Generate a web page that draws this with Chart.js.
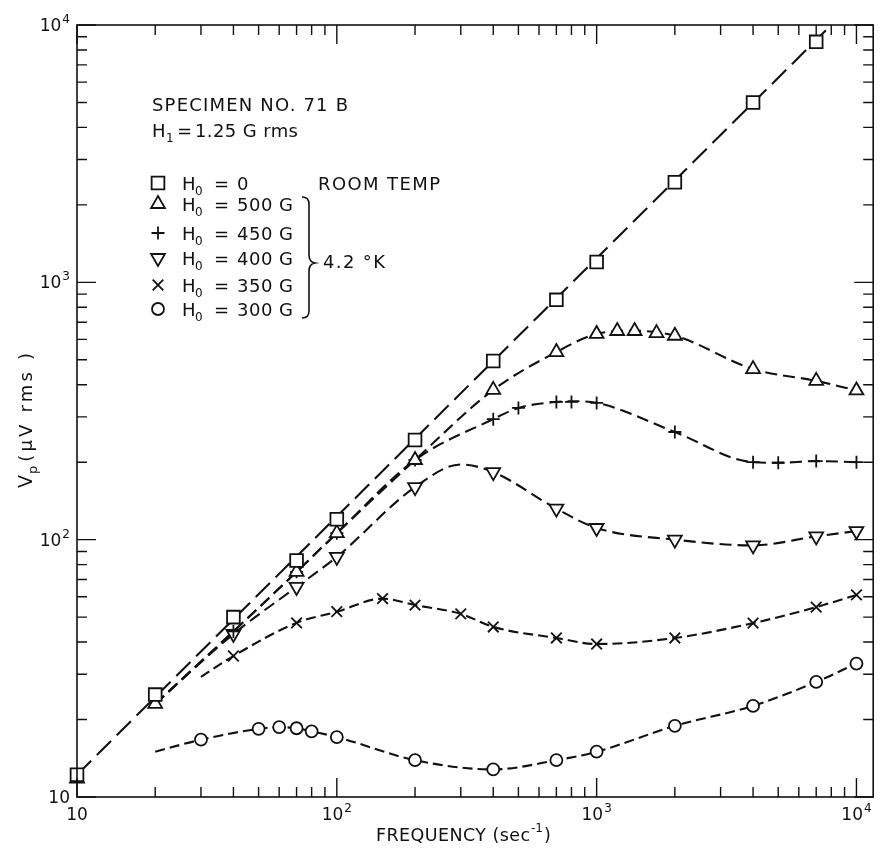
<!DOCTYPE html>
<html><head><meta charset="utf-8">
<script src="https://cdn.jsdelivr.net/npm/chart.js@4.4.1/dist/chart.umd.min.js"></script>
<style>html,body{margin:0;padding:0;background:#fff;}canvas{display:block;}</style>
</head><body>
<canvas id="c" width="884" height="849"></canvas>
<script>
// ---------------- data ----------------
const xDecades = [10, 100, 1000, 10000];
const yDecades = [10, 100, 1000, 10000];
const xMin = 10, xMax = 11600, yMin = 10, yMax = 10000;

// H0 = 0 (room temp), squares
const freqSquare = [10, 20, 40, 70, 100, 200, 400, 700, 1000, 2000, 4000, 7000];
const vSquare    = [12.2, 25, 50, 83, 120, 244, 495, 855, 1200, 2450, 5000, 8600];
const lineSquareFreq = [10, 8000];
const lineSquareV    = [12.2, 10000];

// H0 = 500 G, triangles up
const freqTriUp = [10, 20, 70, 100, 200, 400, 700, 1000, 1200, 1400, 1700, 2000, 4000, 7000, 10000];
const vTriUp    = [11.8, 23, 75, 106, 204, 382, 536, 630, 647, 647, 635, 620, 460, 414, 380];
const curveTriUpFreq = [20, 40, 70, 100, 200, 400, 700, 1000, 1400, 2000, 4000, 7000, 10000];
const curveTriUpV    = [23, 44, 75, 106, 204, 382, 536, 630, 648, 620, 460, 414, 380];

// H0 = 450 G, plus
const freqPlus = [40, 70, 100, 200, 400, 500, 700, 800, 1000, 2000, 4000, 5000, 7000, 10000];
const vPlus    = [44, 75, 106, 204, 294, 325, 343, 343, 340, 262, 200, 199, 202, 200];
const curvePlusFreq = [20, 40, 70, 100, 200, 400, 500, 700, 800, 1000, 2000, 4000, 5000, 7000, 10000];
const curvePlusV    = [23, 44, 75, 106, 204, 294, 325, 343, 345, 340, 262, 200, 199, 202, 200];

// H0 = 400 G, triangles down
const freqTriDown = [40, 70, 100, 200, 400, 700, 1000, 2000, 4000, 7000, 10000];
const vTriDown    = [43, 65.5, 85.7, 160, 183, 132, 111, 100, 95, 103, 108];
const curveTriDownFreq = [20, 40, 70, 100, 200, 300, 400, 700, 1000, 2000, 4000, 7000, 10000];
const curveTriDownV    = [23, 43, 65.5, 85.7, 160, 196, 183, 132, 111, 100, 95, 103, 108];

// H0 = 350 G, crosses
const freqX = [40, 70, 100, 150, 200, 300, 400, 700, 1000, 2000, 4000, 7000, 10000];
const vX    = [35.3, 47.5, 52.5, 59, 55.7, 51.5, 45.8, 41.5, 39.3, 41.5, 47.4, 54.7, 61];
const curveXFreq = [30, 40, 70, 100, 150, 200, 300, 400, 700, 1000, 2000, 4000, 7000, 10000];
const curveXV    = [29.3, 35.3, 47.5, 52.5, 59, 55.7, 51.5, 45.8, 41.5, 39.3, 41.5, 47.4, 54.7, 61];

// H0 = 300 G, circles
const freqO = [30, 50, 60, 70, 80, 100, 200, 400, 700, 1000, 2000, 4000, 7000, 10000];
const vO    = [16.7, 18.4, 18.7, 18.5, 18, 17.1, 13.9, 12.8, 13.9, 15, 18.9, 22.6, 28, 33];
const curveOFreq = [20, 30, 50, 60, 70, 80, 100, 200, 400, 700, 1000, 2000, 4000, 7000, 10000];
const curveOV    = [15, 16.7, 18.4, 18.7, 18.5, 18, 17.1, 13.9, 12.8, 13.9, 15, 18.9, 22.6, 28, 33];

const legendValues = ['0', '500 G', '450 G', '400 G', '350 G', '300 G'];
// ------------------------------------------------------------

const INK = '#111111';
const FONT = '"DejaVu Sans", "Liberation Sans", sans-serif';
const pts = (f, v) => f.map((x, i) => ({x: x, y: v[i]}));

const markerStyles = [
  {style: 'rect', r: 9, rot: 0},
  {style: 'triangle', r: 8, rot: 0},
  {style: 'cross', r: 6.5, rot: 0},
  {style: 'triangle', r: 8, rot: 180},
  {style: 'crossRot', r: 7.5, rot: 0},
  {style: 'circle', r: 6, rot: 0}
];
const markerData = [
  pts(freqSquare, vSquare), pts(freqTriUp, vTriUp), pts(freqPlus, vPlus),
  pts(freqTriDown, vTriDown), pts(freqX, vX), pts(freqO, vO)
];
const curveData = [
  {d: pts(lineSquareFreq, lineSquareV), dash: [20, 8], mono: false},
  {d: pts(curveTriUpFreq, curveTriUpV), dash: [12, 6], mono: true},
  {d: pts(curvePlusFreq, curvePlusV), dash: [12, 6], mono: true},
  {d: pts(curveTriDownFreq, curveTriDownV), dash: [12, 6], mono: true},
  {d: pts(curveXFreq, curveXV), dash: [10, 5], mono: true},
  {d: pts(curveOFreq, curveOV), dash: [10, 5], mono: true}
];

const datasets = [];
curveData.forEach(c => datasets.push({
  data: c.d, showLine: true, pointRadius: 0, borderColor: INK, borderWidth: 2.1,
  borderDash: c.dash, cubicInterpolationMode: c.mono ? 'monotone' : 'default',
  tension: c.mono ? 0.4 : 0, order: 2, clip: false
}));
markerData.forEach((d, i) => datasets.push({
  data: d, showLine: false, pointStyle: markerStyles[i].style, pointRadius: markerStyles[i].r,
  pointRotation: markerStyles[i].rot, pointBorderColor: INK, pointBackgroundColor: '#ffffff',
  pointBorderWidth: 1.8, pointHoverRadius: markerStyles[i].r, order: 1, clip: false
}));

function fitText(ctx, text, x, y, width, size, align) {
  ctx.font = size + 'px ' + FONT;
  ctx.letterSpacing = '0px';
  const w0 = ctx.measureText(text).width;
  let s = 0;
  if (width && text.length > 1) s = (width - w0) / (text.length - 1);
  s = Math.max(-1.5, Math.min(6, s));
  const tw = w0 + s * (text.length - 1);
  ctx.letterSpacing = s + 'px';
  ctx.textAlign = 'left';
  let x0 = x;
  if (align === 'center') x0 = x - tw / 2;
  else if (align === 'right') x0 = x - tw;
  ctx.fillText(text, x0, y);
  ctx.letterSpacing = '0px';
  return x0 + tw;
}

function powLabel(ctx, d, x, y, align) {
  const e = Math.round(Math.log10(d));
  ctx.font = '17px ' + FONT;
  const wb = ctx.measureText('10').width;
  let we = 0;
  const es = e === 1 ? '' : String(e);
  ctx.font = '12px ' + FONT;
  if (es) we = ctx.measureText(es).width + 1;
  const tw = wb + we;
  let x0 = align === 'right' ? x - tw : x - tw / 2;
  ctx.textAlign = 'left';
  ctx.font = '17px ' + FONT;
  ctx.fillText('10', x0, y);
  if (es) { ctx.font = '12px ' + FONT; ctx.fillText(es, x0 + wb + 1, y - 8); }
}

const decor = {
  id: 'decor',
  afterDatasetsDraw(chart) {
    const ctx = chart.ctx, a = chart.chartArea, xs = chart.scales.x, ys = chart.scales.y;
    ctx.save();
    ctx.strokeStyle = INK; ctx.fillStyle = INK; ctx.lineWidth = 1.6; ctx.setLineDash([]);
    ctx.strokeRect(a.left, a.top, a.right - a.left, a.bottom - a.top);
    ctx.lineWidth = 1.4;
    ctx.beginPath();
    xDecades.forEach(d => {
      for (let m = 1; m <= 9; m++) {
        const v = d * m; if (v > xMax) break;
        const px = xs.getPixelForValue(v), L = m === 1 ? 19 : 10;
        ctx.moveTo(px, a.bottom); ctx.lineTo(px, a.bottom - L);
        ctx.moveTo(px, a.top); ctx.lineTo(px, a.top + L);
      }
    });
    yDecades.forEach(d => {
      for (let m = 1; m <= 9; m++) {
        const v = d * m; if (v > yMax) break;
        const py = ys.getPixelForValue(v), L = m === 1 ? 19 : 10;
        ctx.moveTo(a.left, py); ctx.lineTo(a.left + L, py);
        ctx.moveTo(a.right, py); ctx.lineTo(a.right - L, py);
      }
    });
    ctx.stroke();
    // tick labels
    ctx.textBaseline = 'alphabetic';
    xDecades.forEach(d => powLabel(ctx, d, xs.getPixelForValue(d), 820, 'center'));
    yDecades.forEach(d => powLabel(ctx, d, a.left - 7, ys.getPixelForValue(d) + 6, 'right'));
    // x title
    let xe = fitText(ctx, 'FREQUENCY (sec', 376, 841, 154, 17.5, 'left');
    ctx.font = '12px ' + FONT; ctx.fillText('-1', xe + 1, 832);
    const w1 = ctx.measureText('-1').width;
    ctx.font = '17.5px ' + FONT; ctx.fillText(')', xe + w1 + 2, 841);
    // y title (rotated)
    ctx.save();
    ctx.translate(32, 488); ctx.rotate(-Math.PI / 2);
    ctx.font = '19px ' + FONT; ctx.fillText('V', 0, 0);
    const wv = ctx.measureText('V').width;
    ctx.font = '13px ' + FONT; ctx.fillText('p', wv + 1, 5);
    const wp = ctx.measureText('p').width;
    fitText(ctx, '(\u03bcV rms )', wv + wp + 5, 0, 135 - wv - wp - 5, 18, 'left');
    ctx.restore();
    // annotation
    fitText(ctx, 'SPECIMEN NO. 71 B', 152, 111, 196, 18, 'left');
    ctx.font = '18px ' + FONT; ctx.fillText('H', 152, 137);
    ctx.font = '12px ' + FONT; ctx.fillText('1', 166, 142);
    ctx.font = '18px ' + FONT; ctx.fillText('=', 177, 137);
    fitText(ctx, '1.25 G rms', 195, 137, 103, 18, 'left');
    // legend
    const rowsY = [183, 204, 233, 258, 285, 309];
    rowsY.forEach((cy, i) => {
      const ms = markerStyles[i];
      ctx.fillStyle = '#ffffff'; ctx.strokeStyle = INK; ctx.lineWidth = 1.8;
      Chart.helpers.drawPoint(ctx, {pointStyle: ms.style, radius: ms.r, rotation: ms.rot, borderWidth: 1.8}, 158, cy);
      ctx.fillStyle = INK;
      const by = cy + 6.5;
      ctx.font = '18px ' + FONT; ctx.fillText('H', 182, by);
      ctx.font = '12px ' + FONT; ctx.fillText('0', 195, by + 5);
      ctx.font = '18px ' + FONT; ctx.fillText('=', 214, by);
      const val = legendValues[i];
      fitText(ctx, val, 237, by, val.length > 1 ? 56 : 0, 18, 'left');
    });
    fitText(ctx, 'ROOM TEMP', 318, 189.5, 122, 18, 'left');
    // brace
    ctx.strokeStyle = INK; ctx.lineWidth = 1.6;
    ctx.beginPath();
    ctx.moveTo(302, 197);
    ctx.quadraticCurveTo(309, 197, 309, 204);
    ctx.lineTo(309, 255);
    ctx.quadraticCurveTo(309, 262, 315, 263);
    ctx.quadraticCurveTo(309, 264, 309, 271);
    ctx.lineTo(309, 311);
    ctx.quadraticCurveTo(309, 318, 302, 318);
    ctx.stroke();
    fitText(ctx, '4.2 \u00b0K', 323, 268, 62, 18, 'left');
    ctx.restore();
  }
};

new Chart(document.getElementById('c'), {
  type: 'scatter',
  data: {datasets: datasets},
  options: {
    responsive: false, animation: false, devicePixelRatio: 1,
    layout: {padding: {left: 77, right: 1, top: 25, bottom: 52}},
    plugins: {legend: {display: false}, tooltip: {enabled: false}},
    events: [],
    scales: {
      x: {type: 'logarithmic', min: xMin, max: xMax, display: false},
      y: {type: 'logarithmic', min: yMin, max: yMax, display: false}
    }
  },
  plugins: [decor]
});
</script>
</body></html>
